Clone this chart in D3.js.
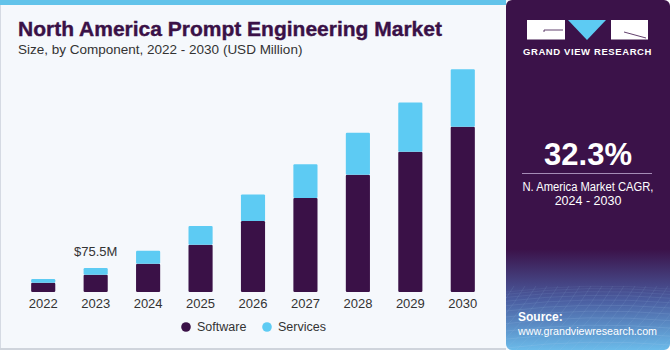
<!DOCTYPE html>
<html>
<head>
<meta charset="utf-8">
<script src="https://cdn.jsdelivr.net/npm/d3@7"></script>
<style>
  html,body{margin:0;padding:0;background:#fff;}
  svg{display:block;font-family:"Liberation Sans",Arial,sans-serif;}
</style>
</head>
<body>
<div id="chart"></div>
<script>
/* stacked bars — N. America prompt engineering market */

const YEARS    = ["2022","2023","2024","2025","2026","2027","2028","2029","2030"];
const SOFTWARE = [29, 54.4, 89, 149, 223, 296, 369, 441, 520];
const SERVICES = [12, 21.1, 41, 59, 84, 106, 132, 155, 181];
const SERIES   = ["Software","Services"];
const COLORS   = ["#3a1147","#5dcbf3"];
const CALLOUT  = {year:"2023", text:"$75.5M"};
const CAGR     = "32.3%";

const W = 670, H = 350, PANEL_X = 506;

const svg = d3.select("#chart").append("svg").attr("width",W).attr("height",H);
const defs = svg.append("defs");

/* ---------- left panel ---------- */
svg.append("rect").attr("x",0).attr("y",0).attr("width",PANEL_X+4).attr("height",H)
   .attr("fill","#f5f8fc");
svg.append("rect").attr("x",0).attr("y",0).attr("width",1).attr("height",H).attr("fill","#d5dae3");
svg.append("rect").attr("x",0).attr("y",H-2).attr("width",PANEL_X).attr("height",2).attr("fill","#cfd4dc");
svg.append("rect").attr("x",0).attr("y",0).attr("width",PANEL_X).attr("height",5).attr("fill","#62c3ea");

svg.append("text").attr("x",18).attr("y",36)
   .attr("fill","#3a1147").style("font-size","21px").style("font-weight","bold")
   .attr("stroke","#3a1147").attr("stroke-width",0.4)
   .text("North America Prompt Engineering Market");
svg.append("text").attr("x",18).attr("y",54)
   .attr("fill","#333").style("font-size","13.5px")
   .text("Size, by Component, 2022 - 2030 (USD Million)");

/* ---------- bars ---------- */
const x = d3.scaleBand().domain(YEARS).range([17,489]).paddingInner(0.54).paddingOuter(0.27);
const y = d3.scaleLinear().domain([0,700]).range([292,69.5]);

const rows = YEARS.map((yr,i)=>({year:yr, Software:SOFTWARE[i], Services:SERVICES[i]}));
const stack = d3.stack().keys(SERIES)(rows);

svg.append("g").selectAll("g").data(stack).join("g")
   .attr("fill",(d,i)=>COLORS[i])
   .selectAll("rect").data(d=>d).join("rect")
     .attr("x",d=>x(d.data.year))
     .attr("width",x.bandwidth())
     .attr("y",d=>y(d[1]))
     .attr("height",d=>y(d[0])-y(d[1]))
     .attr("rx",1.2);

const xAxis = svg.append("g").attr("transform","translate(0,292)")
   .call(d3.axisBottom(x).tickSize(0).tickPadding(7));
xAxis.select(".domain").remove();
xAxis.selectAll("text").style("font-size","13px").attr("fill","#333")
     .style("font-family","Liberation Sans, Arial, sans-serif");

const ci = YEARS.indexOf(CALLOUT.year);
svg.append("text")
   .attr("x",x(CALLOUT.year)+x.bandwidth()/2)
   .attr("y",y(SOFTWARE[ci]+SERVICES[ci])-12)
   .attr("text-anchor","middle").attr("fill","#333").style("font-size","13px")
   .text(CALLOUT.text);

/* legend */
const leg = svg.append("g").selectAll("g").data(SERIES).join("g")
   .attr("transform",(d,i)=>`translate(${186+i*81},327)`);
leg.append("circle").attr("r",4.8).attr("fill",(d,i)=>COLORS[i]);
leg.append("text").attr("x",11).attr("dy","0.35em")
   .attr("fill","#333").style("font-size","12.5px").text(d=>d);

/* ---------- right panel ---------- */
const grad = defs.append("linearGradient").attr("id","fade").attr("x1",0).attr("y1",0).attr("x2",0).attr("y2",1);
grad.append("stop").attr("offset","0").attr("stop-color","#3b1249");
grad.append("stop").attr("offset","0.72").attr("stop-color","#3b1249");
grad.append("stop").attr("offset","0.86").attr("stop-color","#4a5c9f");
grad.append("stop").attr("offset","1").attr("stop-color","#6bbbea");
defs.append("clipPath").attr("id","pclip").append("rect")
   .attr("x",PANEL_X).attr("y",0).attr("width",W-PANEL_X).attr("height",H).attr("rx",6);

const panel = svg.append("g").attr("clip-path","url(#pclip)");
panel.append("rect").attr("x",PANEL_X).attr("y",-10).attr("width",W-PANEL_X+10).attr("height",H+10)
   .attr("fill","url(#fade)");

/* faint perspective grid at the bottom */
const grid = panel.append("g").attr("stroke","#a9cdf0").attr("stroke-width",0.6).attr("fill","none");
d3.range(0,14).forEach(k=>{
  const yy = 286 + k*k*0.36 + k*2;
  grid.append("path").attr("stroke-opacity",0.12+k*0.02)
      .attr("d",`M${PANEL_X},${yy+6} Q${(PANEL_X+W)/2},${yy-4} ${W},${yy+3}`);
});
d3.range(-8,20).forEach(k=>{
  const xt = PANEL_X + k*11;
  grid.append("path").attr("stroke-opacity",0.18)
      .attr("d",`M${xt+30},286 Q${xt+10},320 ${xt-25},352`);
});

/* logo */
const logo = svg.append("g");
logo.append("rect").attr("x",527).attr("y",20).attr("width",38).attr("height",19.5).attr("fill","#fff");
logo.append("rect").attr("x",611).attr("y",20).attr("width",37).attr("height",19.5).attr("fill","#fff");
logo.append("path").attr("d","M568,20 L606,20 L587,40 Z").attr("fill","#5dcbf3");
logo.append("path").attr("d","M544,32 L544,30 L563,30").attr("stroke","#3b1249").attr("stroke-width",0.8).attr("fill","none");
logo.append("path").attr("d","M624,32 L646,38").attr("stroke","#3b1249").attr("stroke-width",0.8).attr("fill","none");
svg.append("text").attr("x",587.5).attr("y",54.5).attr("text-anchor","middle")
   .attr("fill","#fff").style("font-size","9.5px").style("font-weight","bold")
   .style("letter-spacing","0.6px").text("GRAND VIEW RESEARCH");

svg.append("text").attr("x",588).attr("y",165).attr("text-anchor","middle")
   .attr("fill","#fff").style("font-size","31px").style("font-weight","bold").text(CAGR);
svg.append("line").attr("x1",522).attr("x2",652).attr("y1",173.5).attr("y2",173.5)
   .attr("stroke","#a58cb6").attr("stroke-width",1.2);
svg.append("text").attr("x",588).attr("y",191).attr("text-anchor","middle")
   .attr("fill","#fff").style("font-size","12.5px")
   .attr("textLength",131).attr("lengthAdjust","spacingAndGlyphs")
   .text("N. America Market CAGR,");
svg.append("text").attr("x",588).attr("y",205).attr("text-anchor","middle")
   .attr("fill","#fff").style("font-size","12.5px").text("2024 - 2030");

svg.append("text").attr("x",518).attr("y",321)
   .attr("fill","#fff").style("font-size","12px").style("font-weight","bold").text("Source:");
svg.append("text").attr("x",518).attr("y",335)
   .attr("fill","#fff").style("font-size","11px")
   .attr("textLength",139).attr("lengthAdjust","spacingAndGlyphs")
   .text("www.grandviewresearch.com");
</script>
</body>
</html>
